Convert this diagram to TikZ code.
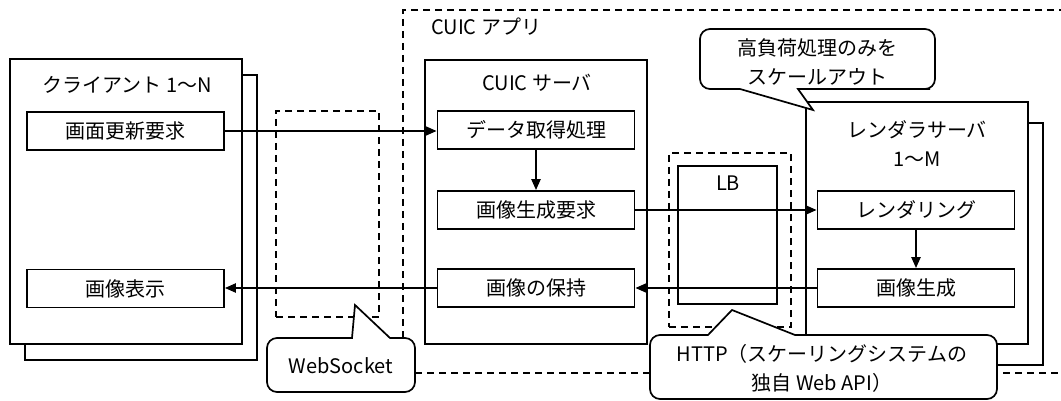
\documentclass[tikz,border=0pt]{standalone}
\usepackage{fontspec}
\setmainfont{Noto Sans CJK JP}
\usetikzlibrary{arrows.meta}

\begin{document}
\begin{tikzpicture}[x=1pt, y=-1pt,
  lbl/.style={inner sep=0pt, font=\fontsize{20}{29}\selectfont, align=center},
  frame/.style={draw, line width=1.7pt, fill=white, inner sep=0pt},
  dbox/.style={draw, line width=1.5pt, dash pattern=on 7pt off 5pt, inner sep=0pt},
  proc/.style={frame, minimum width=197pt, minimum height=38pt, font=\fontsize{20}{24}\selectfont},
  arr/.style={line width=2.2pt, -{Triangle[length=11pt, width=9pt]}},
  callout/.style={draw, line width=1.7pt, fill=white}
]
\useasboundingbox (0,0) rectangle (1061,401);
\clip (0,0) rectangle (1061,401);

% application boundary
\node[dbox, minimum width=672pt, minimum height=363pt] (app) at (739,191.5) {};
\node[lbl, anchor=west] (appT) at (431,27) {CUIC アプリ};

% clients (stacked)
\node[frame, minimum width=232pt, minimum height=285pt] (cliB) at (141,217.5) {};
\node[frame, minimum width=232pt, minimum height=285pt] (cli) at (126,201.5) {};
\node[lbl] (cliT) at (127,85) {クライアント 1～N};
\node[proc] (upd) at (125.5,131) {画面更新要求};
\node[proc] (show) at (125.5,288.5) {画像表示};

% websocket channel
\node[dbox, minimum width=103pt, minimum height=206pt] (ws) at (327.5,214) {};

% CUIC server
\node[frame, minimum width=222pt, minimum height=284pt] (srv) at (536,202) {};
\node[lbl] (srvT) at (537,83) {CUIC サーバ};
\node[proc] (get) at (536,130) {データ取得処理};
\node[proc] (gen) at (536,210) {画像生成要求};
\node[proc] (keep) at (536,288) {画像の保持};

% load balancer
\node[dbox, minimum width=122pt, minimum height=174pt] (lbD) at (730,240) {};
\node[frame, minimum width=99pt, minimum height=138pt] (lb) at (727.5,235) {};
\node[lbl] (lbT) at (728,183) {LB};

% render servers (stacked)
\node[frame, minimum width=221pt, minimum height=242pt] (renB) at (932.5,244) {};
\node[frame, minimum width=222pt, minimum height=242pt] (ren) at (917,223) {};
\node[lbl] (renT) at (917,143.5) {レンダラサーバ\\1～M};
\node[proc] (rend) at (916,210) {レンダリング};
\node[proc] (img) at (916,288) {画像生成};

% flows
\draw[arr] (upd.east) -- (upd.east -| get.west);
\draw[arr] (get.south) -- (gen.north);
\draw[arr] (gen.east) -- (gen.east -| rend.west);
\draw[arr] (rend.south) -- (img.north);
\draw[arr] (img.west) -- (img.west -| keep.east);
\draw[arr] (keep.west) -- (keep.west -| show.east);

% callouts
\draw[callout] (813,110) -- (740,89) -- (712,89) [rounded corners=10pt] -- (700,89) -- (700,29)
  -- (935,29) -- (935,89) -- (920,89) [sharp corners] -- (798,89) -- cycle;
\node[lbl] (noteScale) at (817,62) {高負荷処理のみを\\スケールアウト};

\draw[callout] (355,305) -- (390,338) -- (403,338) [rounded corners=10pt] -- (415,338) -- (415,392)
  -- (267,392) -- (267,338) -- (340,338) [sharp corners] -- (352,338) -- cycle;
\node[lbl] (noteWs) at (341,366) {WebSocket};

\draw[callout] (732,310) -- (795,335) -- (985,335) [rounded corners=10pt] -- (997,335) -- (997,399)
  -- (650,399) -- (650,335) -- (696,335) [sharp corners] -- (708,335) -- cycle;
\node[lbl] (noteHttp) at (822,368) {HTTP（スケーリングシステムの\\独自 Web API）};
\end{tikzpicture}
\end{document}
